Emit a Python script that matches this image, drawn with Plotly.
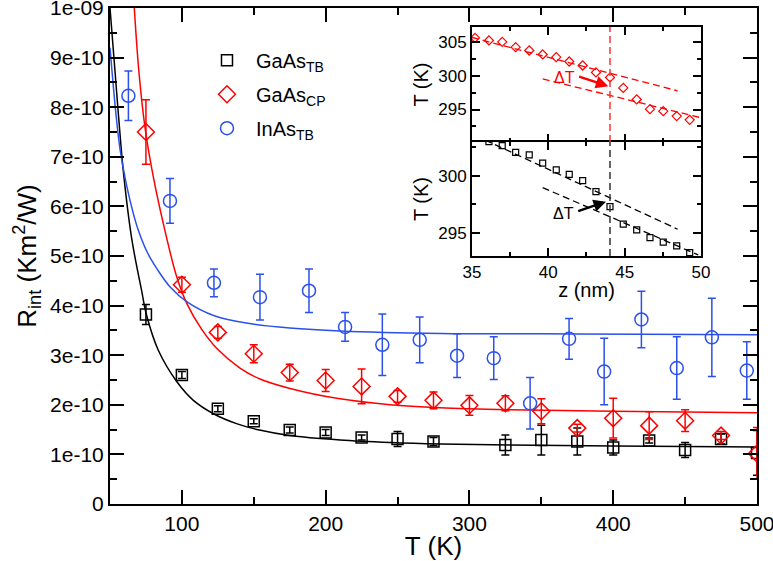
import plotly.graph_objects as go

# ---- main panel data (R in units of 1e-10 Km^2/W) ----
T_gaas_tb = [75, 100, 125, 150, 175, 200, 225, 250, 275, 325, 350, 375, 400, 425, 450, 475, 500]
R_gaas_tb = [3.82, 2.60, 1.92, 1.67, 1.49, 1.44, 1.34, 1.31, 1.26, 1.19, 1.29, 1.26, 1.14, 1.28, 1.09, 1.31, 1.03]
E_gaas_tb = [0.2, 0.07, 0.06, 0.05, 0.06, 0.06, 0.05, 0.15, 0.08, 0.2, 0.3, 0.27, 0.15, 0.05, 0.15, 0.1, 0.45]

T_gaas_cp = [75, 100, 125, 150, 175, 200, 225, 250, 275, 300, 325, 350, 375, 400, 425, 450, 475, 500]
R_gaas_cp = [7.50, 4.42, 3.46, 3.03, 2.65, 2.49, 2.37, 2.17, 2.09, 1.99, 2.03, 1.87, 1.53, 1.73, 1.58, 1.68, 1.38, 1.02]
E_gaas_cp = [0.65, 0.15, 0.12, 0.18, 0.17, 0.22, 0.35, 0.12, 0.17, 0.2, 0.15, 0.25, 0.08, 0.4, 0.28, 0.22, 0.08, 0.52]

T_inas_tb = [62.8, 91.7, 122.3, 154.3, 188.4, 213.5, 239.4, 265.4, 291.4, 316.9, 342.2, 369.3, 393.7, 419.6, 444.2, 468.6, 492.9]
R_inas_tb = [8.23, 6.11, 4.46, 4.17, 4.30, 3.57, 3.21, 3.31, 2.99, 2.94, 2.03, 3.33, 2.67, 3.72, 2.74, 3.36, 2.69]
E_inas_tb = [0.5, 0.45, 0.28, 0.46, 0.44, 0.29, 0.62, 0.46, 0.44, 0.43, 0.52, 0.41, 0.67, 0.57, 0.63, 0.79, 0.58]

# fit curves
T_fit_tb = [50, 53, 56, 59.3, 65.1, 72, 75.5, 83.6, 96.4, 108, 122, 138, 154, 175, 210, 245, 280, 328, 400, 500]
R_fit_tb = [10.0, 8.9, 7.8, 6.7, 5.35, 4.3, 3.8, 3.1, 2.47, 2.09, 1.82, 1.62, 1.49, 1.38, 1.29, 1.24, 1.21, 1.19, 1.17, 1.15]
T_fit_cp = [66.9, 70, 74.3, 80.1, 88.3, 96.4, 103.3, 113.8, 124.2, 140.4, 154.3, 175.2, 210, 244.8, 279.6, 328, 400, 500]
R_fit_cp = [10.0, 8.75, 7.6, 6.6, 5.5, 4.58, 4.05, 3.52, 3.14, 2.74, 2.52, 2.33, 2.12, 2.0, 1.94, 1.90, 1.87, 1.84]
T_fit_inas = [50, 54, 57, 61.6, 66.2, 69.7, 76, 83.6, 92, 103.3, 123, 147, 175, 210, 280, 350, 420, 500]
R_fit_inas = [9.2, 7.9, 7.15, 6.42, 5.86, 5.52, 5.07, 4.70, 4.37, 4.08, 3.79, 3.64, 3.55, 3.49, 3.44, 3.43, 3.42, 3.41]

y_tickvals = [0, 1, 2, 3, 4, 5, 6, 7, 8, 9, 10]
y_ticktext = ['0', '1e-10', '2e-10', '3e-10', '4e-10', '5e-10', '6e-10', '7e-10', '8e-10', '9e-10', '1e-09']

# ---- inset data ----
z_cp = [35.2, 36.11, 36.98, 37.86, 38.75, 39.63, 40.52, 41.37, 42.25, 43.12, 44.04, 44.91, 45.79, 46.66, 47.53, 48.41, 49.26]
Tz_cp = [305.59, 305.21, 305.0, 304.22, 303.73, 303.14, 302.74, 302.1, 301.51, 300.48, 299.74, 298.2, 296.49, 295.06, 294.76, 294.03, 293.48]
z_tb = [36.11, 36.98, 37.86, 38.75, 39.63, 40.52, 41.37, 42.25, 43.12, 44.04, 44.91, 45.79, 46.66, 47.53, 48.41, 49.26]
Tz_tb = [302.98, 302.63, 302.05, 301.82, 301.09, 300.5, 300.12, 299.56, 298.6, 297.28, 295.74, 295.24, 294.56, 294.16, 293.84, 293.25]

# dashed linear fits in the inset (end points)
cp_up_z, cp_up_T = [35.0, 48.47], [305.65, 297.76]
cp_lo_z, cp_lo_T = [39.63, 49.93], [299.53, 293.83]
tb_up_z, tb_up_T = [35.85, 48.47], [303.13, 295.3]
tb_lo_z, tb_lo_T = [39.63, 49.82], [298.95, 293.04]
z_interface = 44.04

BLUE = '#2b50ec'
FONT = 'Liberation Sans, Arial, sans-serif'

fig = go.Figure()

# fit curves
fig.add_trace(go.Scatter(x=T_fit_tb, y=R_fit_tb, mode='lines', line=dict(color='black', width=1.5, shape='spline'),
                         showlegend=False, hoverinfo='skip'))
fig.add_trace(go.Scatter(x=T_fit_cp, y=R_fit_cp, mode='lines', line=dict(color='red', width=1.5, shape='spline'),
                         showlegend=False, hoverinfo='skip'))
fig.add_trace(go.Scatter(x=T_fit_inas, y=R_fit_inas, mode='lines', line=dict(color=BLUE, width=1.5, shape='spline'),
                         showlegend=False, hoverinfo='skip'))

# data with error bars
fig.add_trace(go.Scatter(x=T_gaas_tb, y=R_gaas_tb, mode='markers', name='GaAs<sub>TB</sub>', legendgroup='a',
                         marker=dict(symbol='square-open', size=11, color='black', line=dict(width=1.5)),
                         error_y=dict(type='data', array=E_gaas_tb, color='black', thickness=1.5, width=4)))
fig.add_trace(go.Scatter(x=T_gaas_cp, y=R_gaas_cp, mode='markers', name='GaAs<sub>CP</sub>', legendgroup='b',
                         marker=dict(symbol='diamond-open', size=13, color='red', line=dict(width=1.5)),
                         error_y=dict(type='data', array=E_gaas_cp, color='red', thickness=1.5, width=4)))
fig.add_trace(go.Scatter(x=T_inas_tb, y=R_inas_tb, mode='markers', name='InAs<sub>TB</sub>', legendgroup='c',
                         marker=dict(symbol='circle-open', size=13, color=BLUE, line=dict(width=1.5)),
                         error_y=dict(type='data', array=E_inas_tb, color=BLUE, thickness=1.5, width=4)))

# inset, top panel (GaAs CP)
fig.add_trace(go.Scatter(x=z_cp, y=Tz_cp, mode='markers', xaxis='x2', yaxis='y2', showlegend=False,
                         marker=dict(symbol='diamond-open', size=7, color='red', line=dict(width=1.2))))
for zz, tt in [(cp_up_z, cp_up_T), (cp_lo_z, cp_lo_T)]:
    fig.add_trace(go.Scatter(x=zz, y=tt, mode='lines', xaxis='x2', yaxis='y2', showlegend=False,
                             line=dict(color='red', width=1.3, dash='7px,4px')))
# inset, bottom panel (GaAs TB)
fig.add_trace(go.Scatter(x=z_tb, y=Tz_tb, mode='markers', xaxis='x3', yaxis='y3', showlegend=False,
                         marker=dict(symbol='square-open', size=6, color='black', line=dict(width=1.2))))
for zz, tt in [(tb_up_z, tb_up_T), (tb_lo_z, tb_lo_T)]:
    fig.add_trace(go.Scatter(x=zz, y=tt, mode='lines', xaxis='x3', yaxis='y3', showlegend=False,
                             line=dict(color='black', width=1.3, dash='7px,4px')))

fig.add_shape(type='line', xref='x2', yref='y2 domain', x0=z_interface, x1=z_interface, y0=0, y1=1,
              line=dict(color='#ff3333', width=1.5, dash='7px,4px'))
fig.add_shape(type='line', xref='x3', yref='y3 domain', x0=z_interface, x1=z_interface, y0=0, y1=1,
              line=dict(color='#333333', width=1.5, dash='7px,4px'))

# ΔT arrows
fig.add_annotation(x=43.93, y=298.46, ax=41.92, ay=299.93, xref='x2', yref='y2', axref='x2', ayref='y2',
                   showarrow=True, arrowhead=2, arrowsize=1, arrowwidth=2.5, arrowcolor='red', text='')
fig.add_annotation(x=41.09, y=299.74, xref='x2', yref='y2', text='ΔT', showarrow=False,
                   font=dict(color='red', size=16, family=FONT))
fig.add_annotation(x=43.78, y=297.72, ax=41.86, ay=296.84, xref='x3', yref='y3', axref='x3', ayref='y3',
                   showarrow=True, arrowhead=2, arrowsize=1, arrowwidth=2.5, arrowcolor='black', text='')
fig.add_annotation(x=41.01, y=296.64, xref='x3', yref='y3', text='ΔT', showarrow=False,
                   font=dict(color='black', size=16, family=FONT))

main_ax = dict(showline=True, linewidth=2, linecolor='black', mirror='allticks', ticks='inside',
               tickwidth=2, ticklen=14, tickcolor='black', showgrid=False, zeroline=False,
               automargin=False, ticklabeloverflow='allow',
               tickfont=dict(size=21, family=FONT, color='black'))
inset_ax = dict(showline=True, linewidth=1.8, linecolor='black', mirror='allticks', ticks='inside',
                tickwidth=1.5, ticklen=8, tickcolor='black', showgrid=False, zeroline=False,
                automargin=False, ticklabeloverflow='allow',
                tickfont=dict(size=17, family=FONT, color='black'))

fig.update_layout(
    width=773, height=561,
    margin=dict(l=110, r=16, t=8, b=57),
    paper_bgcolor='white', plot_bgcolor='white',
    font=dict(family=FONT, color='black'),
    xaxis=dict(main_ax, range=[50, 500], tick0=0, dtick=100,
               minor=dict(tick0=0, dtick=50, ticklen=7, tickwidth=2, ticks='inside', tickcolor='black'),
               title=dict(text='T (K)', font=dict(size=26, family=FONT), standoff=8)),
    yaxis=dict(main_ax, range=[0, 10], tickmode='array', tickvals=y_tickvals, ticktext=y_ticktext,
               minor=dict(tick0=0, dtick=0.5, ticklen=7, tickwidth=2, ticks='inside', tickcolor='black'),
               title=dict(text='R<sub>int</sub> (Km<sup>2</sup>/W)', font=dict(size=26, family=FONT), standoff=6)),
    xaxis2=dict(inset_ax, domain=[0.5595, 0.9134], anchor='y2', range=[35, 50], tick0=0, dtick=5,
                showticklabels=False,
                minor=dict(tick0=0, dtick=2.5, ticklen=4, tickwidth=1.5, ticks='inside', tickcolor='black')),
    yaxis2=dict(inset_ax, domain=[0.7298, 0.9617], anchor='x2', range=[290.2, 307.2],
                tickvals=[295, 300, 305],
                minor=dict(tick0=0, dtick=2.5, ticklen=4, tickwidth=1.5, ticks='inside', tickcolor='black'),
                title=dict(text='T (K)', font=dict(size=20, family=FONT), standoff=4)),
    xaxis3=dict(inset_ax, domain=[0.5595, 0.9134], anchor='y3', range=[35, 50], tick0=0, dtick=5,
                minor=dict(tick0=0, dtick=2.5, ticklen=4, tickwidth=1.5, ticks='inside', tickcolor='black'),
                title=dict(text='z (nm)', font=dict(size=20, family=FONT), standoff=2)),
    yaxis3=dict(inset_ax, domain=[0.5, 0.7298], anchor='x3', range=[292.95, 302.95],
                tickvals=[295, 300],
                minor=dict(tick0=0, dtick=2.5, ticklen=4, tickwidth=1.5, ticks='inside', tickcolor='black'),
                title=dict(text='T (K)', font=dict(size=20, family=FONT), standoff=4)),
    legend=dict(x=0.136, y=0.934, xanchor='left', yanchor='top', bgcolor='rgba(0,0,0,0)',
                font=dict(size=20, family=FONT), itemwidth=48, tracegroupgap=5),
)

# drop the page's default body margin so the figure sits at the window's top-left corner
fig.write_html('out.html', config={'displayModeBar': False},
               post_script="document.body.style.margin='0';")
